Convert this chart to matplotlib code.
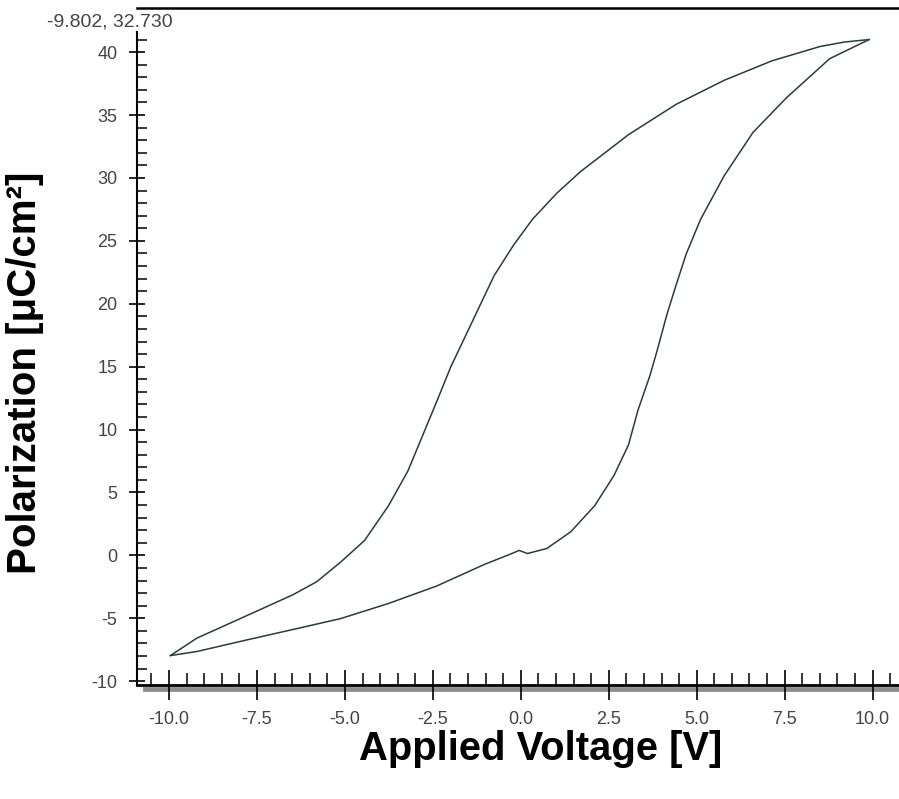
import numpy as np
import matplotlib.pyplot as plt
from matplotlib.ticker import MultipleLocator, FormatStrFormatter
from matplotlib.lines import Line2D
from matplotlib.transforms import offset_copy

plt.rcParams['font.family'] = ['Liberation Sans', 'DejaVu Sans']
plt.rcParams['axes.unicode_minus'] = False

# P-E loop, field swept down from +10 V then back up
v_down = [9.90, 9.19, 8.51, 7.14, 5.78, 4.42, 3.06, 1.70, 1.02, 0.33, -0.21, -0.76,
          -1.17, -1.58, -1.99, -2.39, -2.80, -3.21, -3.76, -4.44, -5.12, -5.80,
          -6.48, -7.84, -9.21, -9.96]
p_down = [41.0, 40.80, 40.45, 39.31, 37.76, 35.86, 33.44, 30.51, 28.78, 26.71, 24.65, 22.23,
          19.82, 17.40, 14.99, 12.23, 9.47, 6.71, 3.95, 1.19, -0.53, -2.09,
          -3.13, -4.85, -6.58, -7.96]

v_up = [-9.96, -9.21, -7.84, -6.48, -5.12, -3.76, -2.39, -1.03, -0.21, -0.05, 0.19,
        0.74, 1.42, 2.10, 2.65, 3.06, 3.33, 3.67, 3.88, 4.15, 4.42, 4.70, 5.11,
        5.78, 6.60, 7.55, 8.78, 9.90]
p_up = [-7.96, -7.64, -6.75, -5.89, -5.02, -3.82, -2.43, -0.71, 0.20, 0.40, 0.15,
        0.55, 1.88, 3.95, 6.36, 8.78, 11.54, 14.29, 16.33, 19.12, 21.54, 23.95, 26.71,
        30.17, 33.62, 36.37, 39.48, 41.0]

cursor_text = '-9.802, 32.730'

fig = plt.figure(figsize=(8.99, 7.99), dpi=100)
ax = fig.add_axes([137/899, 1 - 685/799, 1 - 137/899, (685 - 32)/799])

ax.plot(v_down, p_down, color='#2b3c37', lw=1.1)
ax.plot(v_up, p_up, color='#2b3c37', lw=1.1)

ax.set_xlim(-10.91, 10.75)
ax.set_ylim(-10.3, 41.6)

ax.xaxis.set_major_locator(MultipleLocator(2.5))
ax.xaxis.set_minor_locator(MultipleLocator(0.5))
ax.xaxis.set_major_formatter(FormatStrFormatter('%.1f'))
ax.yaxis.set_major_locator(MultipleLocator(5))
ax.yaxis.set_minor_locator(MultipleLocator(1))

ax.tick_params(axis='x', which='major', direction='inout', length=21, width=1.2,
               pad=8, labelsize=13, labelcolor='#444444')
ax.tick_params(axis='x', which='minor', direction='in', length=8.5, width=1.1)
ax.tick_params(axis='y', which='major', direction='inout', length=12, width=1.2,
               pad=8, labelsize=13, labelcolor='#444444')
ax.tick_params(axis='y', which='minor', direction='in', length=7, width=1.1)

for s in ['top', 'right']:
    ax.spines[s].set_visible(False)
ax.spines['left'].set_linewidth(1.5)
ax.spines['bottom'].set_linewidth(2)

# grey shadow under the x axis line
band = Line2D([0.01, 1], [0, 0], transform=offset_copy(ax.transAxes, fig, y=-4, units='dots'),
              color='#8e8e8e', lw=3.5, clip_on=False, zorder=1)
ax.add_line(band)

# frame line at the top of the window
fig.add_artist(Line2D([137/899, 1], [1 - 8/799, 1 - 8/799], transform=fig.transFigure,
                      color='black', lw=1.8))
fig.text(47/899, 1 - 22/799, cursor_text, fontsize=14, color='#444444', va='center', ha='left')

fig.text(541/899, 1 - 749/799, 'Applied Voltage [V]', fontsize=28.8, fontweight='bold',
         ha='center', va='center')
fig.text(25/899, 1 - 373/799, 'Polarization [μC/cm²]', fontsize=29, fontweight='bold',
         ha='center', va='center', rotation=90)

fig.savefig('out.png', dpi=100)
